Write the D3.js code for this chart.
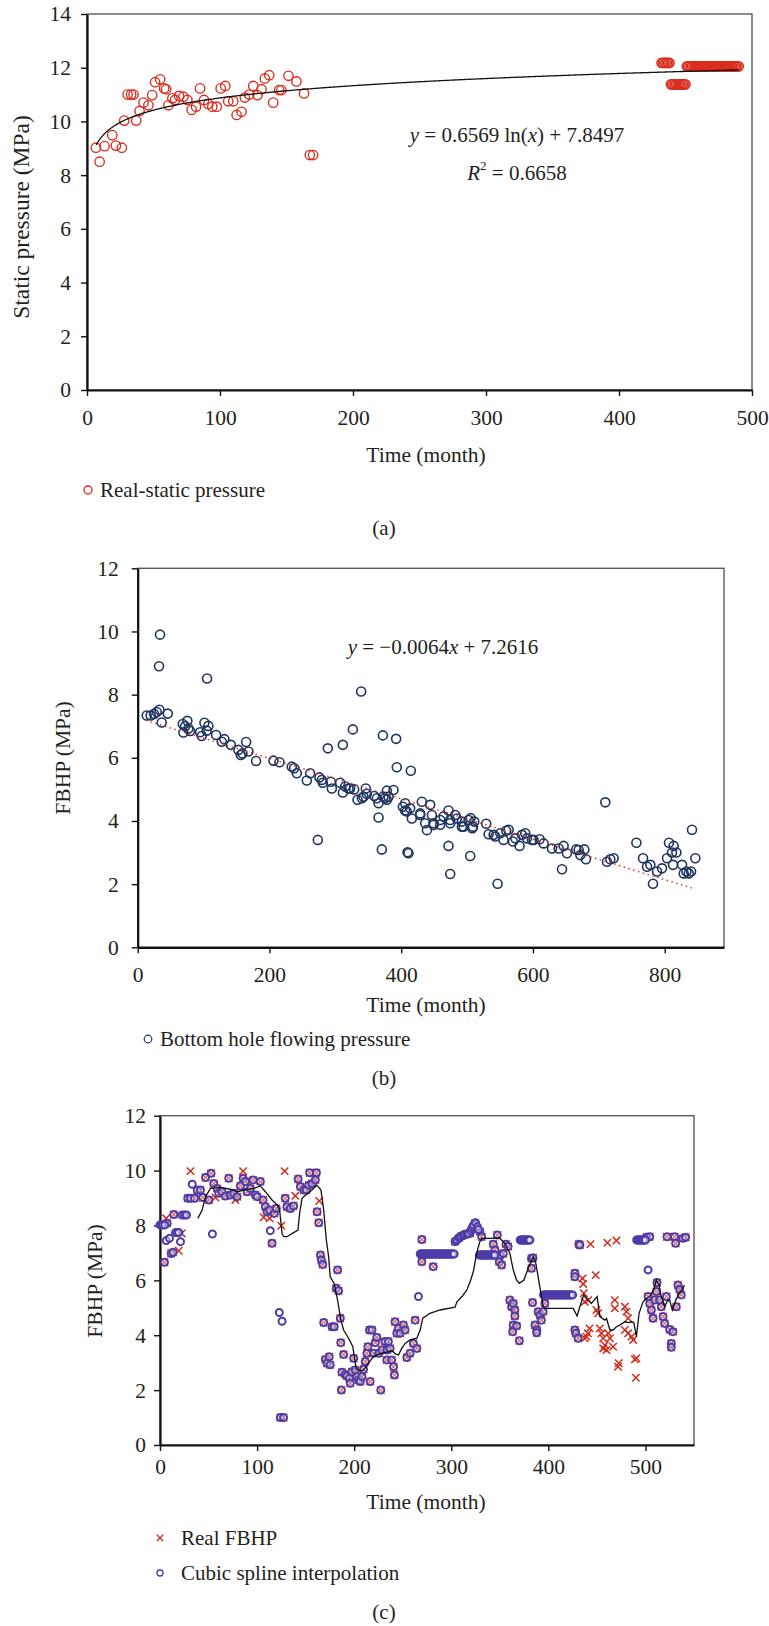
<!DOCTYPE html>
<html>
<head>
<meta charset="utf-8">
<script src="https://cdn.jsdelivr.net/npm/d3@7"></script>
<style>
  body { margin: 0; background: #fff; }
  svg { display: block; }
</style>
</head>
<body>
<svg id="chart"></svg>
<script>
// ---- (a) static pressure ----
const staticMonths = [6.7, 9.5, 13.2, 19, 21.7, 26.2, 28, 30.5, 33.2, 35, 37, 39.5, 42.5, 46.2, 49, 51.2, 55, 58, 59.5, 61.2,
  64.2, 66.2, 69.2, 72.5, 75.5, 78.7, 82, 85, 88, 91.2, 94.2, 97.5, 100.5, 104, 106.2, 110, 112.5, 116.2, 118.7, 122,
  125, 128.2, 131.2, 133.7, 137, 140, 144.5, 146.2, 151.5, 157.5, 163.2, 167.5, 170,
  432, 433, 434, 435, 436, 437, 438,
  439, 440, 441, 442, 443, 444, 445, 446, 447, 448, 449, 450,
  451, 452, 453, 454, 455, 456, 457, 458, 459, 460, 461, 462, 463, 464, 465, 466, 467, 468, 469, 470,
  471, 472, 473, 474, 475, 476, 477, 478, 479, 480, 481, 482, 483, 484, 485, 486, 487, 488, 489, 490];
const staticPressure = [9.02, 8.5, 9.08, 9.49, 9.1, 9.02, 10.03, 11.0, 11.0, 11.0, 10.03, 10.39, 10.7, 10.6, 10.98, 11.46, 11.57, 11.23, 11.2, 10.6,
  10.86, 10.8, 10.95, 10.92, 10.8, 10.43, 10.55, 11.23, 10.8, 10.65, 10.55, 10.55, 11.23, 11.32, 10.75, 10.75, 10.24, 10.36, 10.89, 11.0,
  11.32, 10.98, 11.2, 11.6, 11.72, 10.7, 11.17, 11.17, 11.7, 11.49, 11.04, 8.75, 8.75,
  12.18, 12.18, 12.18, 12.18, 12.18, 12.18, 12.18,
  11.38, 11.38, 11.38, 11.38, 11.38, 11.38, 11.38, 11.38, 11.38, 11.38, 11.38, 11.38,
  12.05, 12.05, 12.05, 12.05, 12.05, 12.05, 12.05, 12.05, 12.05, 12.05, 12.05, 12.05, 12.05, 12.05, 12.05, 12.05, 12.05, 12.05, 12.05, 12.05,
  12.05, 12.05, 12.05, 12.05, 12.05, 12.05, 12.05, 12.05, 12.05, 12.05, 12.05, 12.05, 12.05, 12.05, 12.05, 12.05, 12.05, 12.05, 12.05, 12.05];
const logFit = [0.6569, 7.8497];      // y = a ln(x) + b
const logFitRange = [7, 490];

// ---- (b) bottom hole flowing pressure ----
const fbhpMonths = [13.7, 19.7, 24.8, 28.9, 32.9, 33.9, 32.4, 36.5, 45.6, 68.4, 69.4, 72, 75.4, 77, 79.5, 94.7, 97.2, 101.3, 104.8, 105.3,
  107.3, 119, 127.6, 131.6, 141.3, 152.9, 156.5, 159, 164.6, 168.1, 179.7, 206, 215.2, 233.9, 237.5, 241.5, 256.7, 261.8, 273.4, 275.9,
  279.5, 281, 288.6, 293.2, 294.7, 307.3, 311.4, 311.4, 315, 320, 322.5, 326.6, 328.6, 333.7, 339.2, 340.3, 342.8, 346.3, 347.8, 359,
  363, 365.6, 365.6, 370.6, 372.2, 375.7, 378.2, 380.8, 373, 392.3, 393.3, 414.6, 388.3, 378.2, 409.6, 411, 402.5, 406, 405.9, 408.5,
  413.6, 416.1, 431.3, 428.8, 428.8, 436.4, 439, 444, 446.6, 449.1, 449.1, 459.2, 459.2, 464.3, 471.8, 471.8, 474.4, 474.4,
  474.4, 482, 484.5, 492.1, 492.1, 494.7, 502.3, 505.4, 504.8, 507.9, 508.9, 510.9, 529.1, 532.7, 540.3, 542.8, 546.3, 550.4, 555.4, 559.5,
  563.1, 569.6, 573.2, 579.7, 583.3, 588.3, 590.9, 598.5, 601, 610.1, 616.2, 628.9, 639, 644.1, 646.6, 651.6, 665.8, 669.4, 671.9, 678,
  680.5, 709.8, 712.4, 717.4, 722.5, 757, 767.1, 773.2, 778.2, 782.2, 788.3, 795.9, 803.5, 806.5, 813.6, 812.6, 811.1, 817.7, 826.3, 828.9,
  832.9, 836.5, 840, 841.4, 846.5];
const fbhpValues = [7.34, 7.34, 7.39, 7.45, 7.52, 9.9, 8.9, 7.12, 7.4, 7.07, 6.8, 7.0, 7.17, 6.93, 6.85, 6.81, 6.69, 7.11, 6.86, 8.51,
  7.01, 6.72, 6.51, 6.59, 6.41, 6.25, 6.09, 6.14, 6.5, 6.2, 5.9, 5.91, 5.86, 5.72, 5.67, 5.51, 5.28, 5.51, 3.4, 5.38,
  5.3, 5.21, 6.3, 5.24, 5.03, 5.21, 6.41, 4.9, 5.09, 5.03, 5.03, 6.9, 5.0, 4.67, 8.1, 4.72, 4.77, 5.03, 4.86, 4.79,
  4.72, 4.56, 4.11, 3.1, 6.71, 4.72, 4.96, 4.77, 4.77, 6.6, 5.7, 5.59, 4.98, 4.67, 3.01, 2.98, 4.45, 4.56, 4.33, 4.3,
  4.4, 4.08, 4.61, 4.19, 4.24, 3.93, 3.71, 4.51, 4.19, 3.87, 3.93, 4.03, 3.88, 4.14, 4.33, 3.21, 2.32, 4.03,
  3.93, 4.19, 4.08, 3.98, 3.82, 3.82, 4.03, 4.09, 2.89, 3.77, 3.82, 3.98, 3.91, 3.58, 3.56, 3.51, 2.01, 3.61, 3.4, 3.69,
  3.72, 3.35, 3.45, 3.21, 3.56, 3.61, 3.45, 3.4, 3.4, 3.42, 3.29, 3.13, 3.13, 2.47, 3.21, 2.98, 3.1, 3.08, 2.92, 3.1,
  2.79, 4.59, 2.71, 2.79, 2.82, 3.31, 2.82, 2.55, 2.61, 2.01, 2.4, 2.5, 2.82, 3.31, 3.21, 2.61, 3.0, 3.0, 2.61, 2.34,
  2.4, 2.34, 2.4, 3.72, 2.82];
const linFit = [-0.0064, 7.2616];     // y = a x + b
const linFitRange = [12, 841];

// ---- (c) FBHP real vs cubic spline ----
// points where real FBHP and spline markers sit on top of each other
const sharedPoints = [[4.6, 6.66], [7.4, 8.08], [11.5, 6.98], [13.5, 7.02], [14.2, 8.4], [28.6, 8.99], [31.4, 8.99], [35.6, 8.99],
  [38.3, 9.29], [41.7, 9.29], [44.1, 9.02], [46.9, 9.75], [50.4, 8.93], [52.6, 9.9], [55.4, 9.53], [58.8, 9.35], [60.5, 9.17],
  [63.9, 9.23], [67.4, 9.07], [70.8, 9.72], [72.5, 9.11], [76, 9.17], [79.4, 9.05], [82.8, 9.44], [85.6, 9.72], [87.9, 9.6],
  [89.7, 9.23], [93.1, 9.35], [95.9, 9.66], [98.3, 9.11], [100.1, 9.05], [103.4, 9.6], [106.1, 8.93], [108.5, 8.68], [110.3, 8.5],
  [112.9, 8.56], [115.4, 7.35], [117.7, 8.44], [119.8, 8.62], [123.9, 1.0], [127.3, 1.0], [129, 8.99], [130.7, 8.68], [134.2, 8.62],
  [137.6, 8.71], [142.3, 9.69], [144.6, 9.41], [148.1, 9.29], [150.7, 9.29], [153.2, 9.47], [154.1, 9.92], [156.6, 9.53], [160, 9.66],
  [161.1, 9.92], [161.8, 8.5], [163.5, 8.1], [165.2, 6.92], [166.2, 6.74], [167.6, 6.58], [168.6, 4.46], [170.3, 3.12], [172, 2.98],
  [174.3, 3.22], [175.3, 2.92], [177.2, 4.31], [179.4, 4.31], [181.5, 5.71], [182.9, 6.38], [183.9, 5.62], [185.7, 4.62], [186.2, 3.73],
  [186.8, 2.0], [187.4, 2.65], [189.1, 3.3], [190.9, 2.57], [192.5, 2.51], [195, 2.43], [196, 2.25], [197.7, 2.67], [199.5, 3.16],
  [201.2, 2.73], [202.9, 2.49], [204.6, 2.37], [206.3, 2.31], [208, 2.49], [209.7, 2.76], [211.4, 3.04], [213.1, 3.34], [214.1, 3.58],
  [215.8, 4.19], [216.5, 2.31], [218.3, 4.19], [220, 3.34], [221.8, 3.73], [223.3, 3.92], [225.3, 3.34], [227.4, 2.0], [228.6, 3.46],
  [231.7, 3.77], [233.6, 3.1], [233.8, 3.46], [235.2, 3.77], [237, 3.52], [238.6, 3.1], [240.6, 2.85], [241.4, 2.55], [242.1, 4.49],
  [243.9, 4.07], [245.6, 4.25], [247.3, 4.07], [250.7, 4.37], [252.4, 4.19], [254.2, 3.19], [257.6, 3.34], [261, 3.7], [262.8, 4.55],
  [264.5, 3.52], [269.7, 7.49], [269.7, 6.68], [281.4, 6.5], [303.9, 7.41], [307.6, 7.53], [311, 7.62], [315.2, 7.68], [319.4, 7.71],
  [324.4, 8.08], [326.3, 7.9], [329.5, 7.78], [331.3, 7.59], [343.3, 7.32], [345, 7.11], [347.4, 7.65], [349.4, 6.68], [350.1, 6.92],
  [351.9, 6.56], [353.6, 6.98], [356.3, 7.32], [358.5, 7.23], [360.3, 5.28], [362.1, 5.04], [363.8, 5.16], [365.5, 4.92], [365.5, 4.7],
  [363.8, 4.37], [363.2, 4.13], [367.4, 4.34], [370.1, 3.8], [382.6, 6.8], [384.2, 6.82], [382.6, 6.44], [383.7, 5.19], [386.2, 4.37],
  [388.1, 4.19], [388, 4.09], [389.5, 4.86], [391.3, 4.73], [392.8, 4.55], [394.6, 4.86], [396.4, 5.16], [427.3, 6.26], [427.3, 6.13],
  [427.3, 4.19], [428.3, 4.07], [430.6, 3.89], [431.4, 7.32], [432.4, 7.29], [501, 7.57], [504.4, 7.59], [502.7, 5.41], [504.4, 5.16],
  [506.1, 4.92], [507.8, 4.62], [509.5, 5.28], [511.2, 5.59], [511.9, 5.92], [514.6, 5.28], [516.3, 5.04], [518.1, 4.68], [519.8, 4.43],
  [521.5, 5.41], [522.2, 7.59], [524.9, 4.21], [526.6, 3.7], [526.6, 3.56], [528.3, 4.13], [530, 7.59], [531.1, 7.35], [531.8, 5.04],
  [533.5, 5.83], [535.2, 5.67], [536.9, 5.47], [538.6, 7.53], [541.4, 7.57]];
const realOnlyPoints = [[6.3, 8.26], [19.3, 7.08], [22.3, 7.71], [31.4, 9.98], [57.1, 9.02], [77.6, 8.93], [85.6, 9.98], [106.8, 8.3],
  [112.9, 8.26], [124.9, 7.99], [128.4, 9.98], [139.3, 9.08], [164, 8.89], [435.2, 6.07], [435.9, 5.87], [436.5, 5.53], [437.5, 5.22],
  [437.5, 3.89], [439.2, 3.95], [440.7, 4.07], [441, 5.28], [442.4, 4.25], [443.4, 7.32], [448.8, 6.19], [449.5, 4.92], [451.3, 4.8],
  [453, 4.25], [454.7, 4.07], [456.5, 3.89], [456.5, 3.52], [458.2, 3.64], [459.9, 3.46], [460.8, 7.37], [461.6, 4.07], [463.4, 3.89],
  [466.7, 3.58], [468.4, 5.28], [468.4, 4.98], [470.1, 7.45], [471.8, 2.85], [472.5, 2.98], [478.8, 5.04], [478.8, 4.19], [480.5, 4.86],
  [482.2, 4.62], [482.2, 4.07], [485.7, 3.95], [487.4, 3.83], [489.1, 3.12], [490.7, 3.16], [490.1, 2.45]];
const splineOnlyPoints = [[0, 8.02], [1.5, 8.02], [3, 8.02], [5, 8.02], [6.4, 7.45], [9.8, 7.53], [16, 7.74], [17.7, 7.74], [19.3, 7.74],
  [21.1, 7.41], [22.8, 8.38], [25.2, 8.38], [27.3, 8.38], [33.2, 9.5], [54, 7.69], [113.6, 7.81], [122.9, 4.83], [125.7, 4.51], [266.2, 5.41],
  [268, 6.96], [269, 6.96], [270, 6.96], [271, 6.96], [272, 6.96], [273, 6.96], [274, 6.96], [275, 6.96], [276, 6.96], [277, 6.96],
  [278, 6.96], [279, 6.96], [280, 6.96], [281, 6.96], [282, 6.96], [283, 6.96], [284, 6.96], [285, 6.96], [286, 6.96], [287, 6.96],
  [288, 6.96], [289, 6.96], [290, 6.96], [291, 6.96], [292, 6.96], [293, 6.96], [294, 6.96], [295, 6.96], [296, 6.96], [297, 6.96],
  [298, 6.96], [299, 6.96], [300, 6.96], [301, 6.96], [302, 6.96], [303, 6.96],
  [305, 7.45], [306, 7.48], [308, 7.55], [309, 7.58], [310, 7.6], [312, 7.64], [313, 7.66], [314, 7.67], [316, 7.69], [317, 7.7],
  [318, 7.72], [320, 7.8], [321, 7.88], [322, 7.95], [323, 8.02], [325, 8.1], [327, 7.95], [328, 7.85],
  [329, 6.92], [330, 6.92], [331, 6.92], [332, 6.92], [333, 6.92], [334, 6.92], [335, 6.92], [336, 6.92], [337, 6.92], [338, 6.92],
  [339, 6.92], [340, 6.92], [341, 6.92], [342, 6.92], [343, 6.92], [344, 6.92], [345, 6.92],
  [371, 7.47], [372, 7.47], [373, 7.47], [374, 7.47], [375, 7.47], [376, 7.47], [377, 7.47], [378, 7.47], [379, 7.47], [380, 7.47], [381, 7.47],
  [395, 5.47], [396, 5.47], [397, 5.47], [398, 5.47], [399, 5.47], [400, 5.47], [401, 5.47], [402, 5.47], [403, 5.47], [404, 5.47],
  [405, 5.47], [406, 5.47], [407, 5.47], [408, 5.47], [409, 5.47], [410, 5.47], [411, 5.47], [412, 5.47], [413, 5.47], [414, 5.47],
  [415, 5.47], [416, 5.47], [417, 5.47], [418, 5.47], [419, 5.47], [420, 5.47], [421, 5.47], [422, 5.47], [423, 5.47], [424, 5.47], [425, 5.47],
  [491, 7.47], [492, 7.47], [493, 7.47], [494, 7.47], [495, 7.47], [496, 7.47], [497, 7.47], [498, 7.47], [499, 7.47], [500, 7.47],
  [502.7, 6.38]];
// black smoothing line drawn over the markers
const maMonths = [39, 43.4, 46.9, 52, 62.3, 72.5, 79.4, 86.3, 96.6, 103.4, 108.5, 115.4, 120.6, 123.2, 125.7, 127.3, 130.7, 137.6, 142.1, 143.8,
  146.3, 151.3, 156.5, 161.6, 165.8, 168.6, 171.3, 173.7, 175.3, 179.4, 182.9, 186.3, 189.1, 194.2, 198.6, 202, 204.4, 209.7, 214.8, 220,
  226.9, 235.4, 238.8, 242.3, 245.6, 249, 252.5, 257.6, 264.5, 268, 270.6, 278.1, 288.4, 303.9, 305.8, 311, 316.1, 319.4, 322.8, 326.1,
  329.4, 331.3, 339.9, 349.4, 355.3, 360.4, 363.8, 367.3, 370.1, 374.8, 379.2, 384.4, 387.1, 390.6, 394.7, 396.4, 425.6, 429.6, 432.4, 436.5,
  441, 444.4, 450.2, 453, 458.2, 459.9, 463.4, 466.7, 470.1, 473.6, 478.8, 483.2, 485.6, 488, 490.7, 493.4, 497.5, 501, 504.4, 508.5,
  511.2, 514, 516.3, 519.8, 522.2, 524.9, 527.7, 531.8, 535.2, 540.3];
const maFbhp = [8.26, 8.56, 9.05, 9.35, 9.39, 9.32, 9.23, 9.29, 9.35, 9.44, 9.23, 8.93, 8.75, 8.56, 7.71, 7.59, 7.59, 7.74, 7.83, 8.44,
  8.99, 9.15, 9.29, 9.47, 9.29, 8.56, 7.47, 6.86, 6.13, 5.89, 5.28, 4.55, 4.19, 3.89, 3.58, 2.79, 2.71, 2.73, 2.98, 3.24,
  3.32, 3.4, 3.44, 3.32, 3.28, 3.52, 3.7, 3.83, 3.89, 4.19, 4.62, 4.8, 4.92, 5.02, 5.22, 5.41, 5.65, 5.95, 6.32, 6.98,
  7.41, 7.53, 7.53, 7.55, 7.35, 6.98, 6.38, 6.01, 5.89, 6.01, 6.44, 6.86, 6.62, 5.89, 5.04, 4.98, 4.98, 4.7, 5.04, 5.47,
  5.28, 5.16, 5.41, 4.68, 4.55, 4.61, 4.19, 4.19, 4.31, 4.37, 4.49, 4.46, 4.49, 4.46, 3.95, 4.8, 5.22, 5.34, 5.41, 5.65,
  6.01, 5.83, 5.41, 5.04, 5.22, 5.28, 4.92, 5.34, 5.53, 5.83];

const FONT = "'Liberation Serif', 'Times New Roman', serif";
const INK = "#231f20";
const TICK_SIZE = 21.5, TITLE_SIZE = 21.5, LEGEND_SIZE = 21;

const svg = d3.select("#chart").attr("width", 769).attr("height", 1626);

function panel(o) {
  const x = d3.scaleLinear().domain(o.xDomain).range([o.left, o.right]);
  const y = d3.scaleLinear().domain(o.yDomain).range([o.bottom, o.top]);
  const g = svg.append("g");

  // light frame for top/right, heavier axes on left/bottom
  g.append("rect")
    .attr("x", o.left).attr("y", o.top)
    .attr("width", o.right - o.left).attr("height", o.bottom - o.top)
    .attr("fill", "none").attr("stroke", "#5b5b5b").attr("stroke-width", 1.4);

  const ya = g.append("g").attr("transform", `translate(${o.left},0)`)
    .call(d3.axisLeft(y).tickValues(o.yTicks).tickSize(6).tickSizeOuter(0).tickPadding(o.yPad));
  const xa = g.append("g").attr("transform", `translate(0,${o.bottom})`)
    .call(d3.axisBottom(x).tickValues(o.xTicks).tickSize(6).tickSizeOuter(0).tickPadding(o.xPad));
  [ya, xa].forEach(a => {
    a.select(".domain").attr("stroke", "#111").attr("stroke-width", 2.2);
    a.selectAll(".tick line").attr("stroke", "#111").attr("stroke-width", 1.4);
    a.selectAll("text").attr("font-family", FONT).attr("font-size", TICK_SIZE).attr("fill", INK);
  });

  g.append("text")
    .attr("transform", `translate(${o.yTitle[0]},${o.yTitle[1]}) rotate(-90)`)
    .attr("text-anchor", "middle").attr("dominant-baseline", "central")
    .attr("font-family", FONT).attr("font-size", o.yTitleSize || TITLE_SIZE).attr("fill", INK)
    .text(o.yLabel);
  g.append("text")
    .attr("x", o.xTitle[0]).attr("y", o.xTitle[1])
    .attr("text-anchor", "middle").attr("dominant-baseline", "central")
    .attr("font-family", FONT).attr("font-size", TITLE_SIZE).attr("fill", INK)
    .text("Time (month)");
  g.append("text")
    .attr("x", o.caption[0]).attr("y", o.caption[1])
    .attr("text-anchor", "middle").attr("dominant-baseline", "central")
    .attr("font-family", FONT).attr("font-size", 21).attr("fill", INK)
    .text(o.captionText);
  return { x, y, g };
}

function legendText(g, x, y, txt) {
  g.append("text").attr("x", x).attr("y", y)
    .attr("dominant-baseline", "central")
    .attr("font-family", FONT).attr("font-size", LEGEND_SIZE).attr("fill", INK)
    .text(txt);
}

// ================= (a) =================
const RED = "#d92b1c";
const A = panel({
  left: 87, right: 752, top: 14, bottom: 390,
  xDomain: [0, 500], yDomain: [0, 14],
  xTicks: d3.range(0, 501, 100), yTicks: d3.range(0, 15, 2),
  yPad: 10, xPad: 14,
  yLabel: "Static pressure (MPa)", yTitle: [21, 217], yTitleSize: 23.5,
  xTitle: [426, 455], caption: [384, 528], captionText: "(a)"
});
const staticPts = staticMonths.map((m, i) => [m, staticPressure[i]]);
A.g.append("g").selectAll("circle").data(staticPts).join("circle")
  .attr("cx", d => A.x(d[0])).attr("cy", d => A.y(d[1])).attr("r", 4.7)
  .attr("fill", "none").attr("stroke", RED).attr("stroke-width", 1.35);

const logSamples = d3.range(logFitRange[0], logFitRange[1] + 0.5, 1);
A.g.append("path")
  .datum(logSamples)
  .attr("fill", "none").attr("stroke", "#111").attr("stroke-width", 1.3)
  .attr("d", d3.line().x(m => A.x(m)).y(m => A.y(logFit[0] * Math.log(m) + logFit[1])));

const eqA = A.g.append("text").attr("x", 517).attr("y", 135)
  .attr("text-anchor", "middle").attr("dominant-baseline", "central")
  .attr("font-family", FONT).attr("font-size", 21).attr("fill", INK);
eqA.append("tspan").attr("font-style", "italic").text("y");
eqA.append("tspan").text(" = 0.6569 ln(");
eqA.append("tspan").attr("font-style", "italic").text("x");
eqA.append("tspan").text(") + 7.8497");
const r2 = A.g.append("text").attr("x", 517).attr("y", 173)
  .attr("text-anchor", "middle").attr("dominant-baseline", "central")
  .attr("font-family", FONT).attr("font-size", 21).attr("fill", INK);
r2.append("tspan").attr("font-style", "italic").text("R");
r2.append("tspan").attr("font-size", 13).attr("dy", -8).text("2");
r2.append("tspan").attr("dy", 8).text(" = 0.6658");

A.g.append("circle").attr("cx", 88).attr("cy", 490).attr("r", 4)
  .attr("fill", "none").attr("stroke", RED).attr("stroke-width", 1.3);
legendText(A.g, 100, 490, "Real-static pressure");

// ================= (b) =================
const NAVY = "#1f3461";
const B = panel({
  left: 137.7, right: 724, top: 568.3, bottom: 947.3,
  xDomain: [0, 890], yDomain: [0, 12],
  xTicks: d3.range(0, 801, 200), yTicks: d3.range(0, 13, 2),
  yPad: 13, xPad: 13,
  yLabel: "FBHP (MPa)", yTitle: [63, 758],
  xTitle: [426, 1005], caption: [384, 1078], captionText: "(b)"
});
const fbhpPts = fbhpMonths.map((m, i) => [m, fbhpValues[i]]);
B.g.append("g").selectAll("circle").data(fbhpPts).join("circle")
  .attr("cx", d => B.x(d[0])).attr("cy", d => B.y(d[1])).attr("r", 4.5)
  .attr("fill", "none").attr("stroke", NAVY).attr("stroke-width", 1.6);
B.g.append("line")
  .attr("x1", B.x(linFitRange[0])).attr("y1", B.y(linFit[0] * linFitRange[0] + linFit[1]))
  .attr("x2", B.x(linFitRange[1])).attr("y2", B.y(linFit[0] * linFitRange[1] + linFit[1]))
  .attr("stroke", "#e8331f").attr("stroke-width", 1.5).attr("stroke-dasharray", "1.5,3.5");

const eqB = B.g.append("text").attr("x", 443).attr("y", 647)
  .attr("text-anchor", "middle").attr("dominant-baseline", "central")
  .attr("font-family", FONT).attr("font-size", 21).attr("fill", INK);
eqB.append("tspan").attr("font-style", "italic").text("y");
eqB.append("tspan").text(" = \u22120.0064");
eqB.append("tspan").attr("font-style", "italic").text("x");
eqB.append("tspan").text(" + 7.2616");

B.g.append("circle").attr("cx", 148).attr("cy", 1039).attr("r", 3.8)
  .attr("fill", "none").attr("stroke", NAVY).attr("stroke-width", 1.2);
legendText(B.g, 160, 1039, "Bottom hole flowing pressure");

// ================= (c) =================
const PURPLE = "#4d3ca8";
const XRED = "#d22b1d";
const C = panel({
  left: 160, right: 694, top: 1115.7, bottom: 1445,
  xDomain: [0, 550], yDomain: [0, 12],
  xTicks: d3.range(0, 501, 100), yTicks: d3.range(0, 13, 2),
  yPad: 8, xPad: 8,
  yLabel: "FBHP (MPa)", yTitle: [95, 1281],
  xTitle: [426, 1502], caption: [384, 1612], captionText: "(c)"
});
const realPts = sharedPoints.concat(realOnlyPoints);
const splinePts = sharedPoints.concat(splineOnlyPoints);
const cross = s => `M${-s},${-s}L${s},${s}M${-s},${s}L${s},${-s}`;

C.g.append("g").selectAll("path").data(realPts).join("path")
  .attr("transform", d => `translate(${C.x(d[0])},${C.y(d[1])})`)
  .attr("d", cross(3.7))
  .attr("fill", "none").attr("stroke", XRED).attr("stroke-width", 1.5);
C.g.append("g").selectAll("circle").data(splinePts).join("circle")
  .attr("cx", d => C.x(d[0])).attr("cy", d => C.y(d[1])).attr("r", 3.5)
  .attr("fill", "#fff").attr("fill-opacity", 0.4)
  .attr("stroke", PURPLE).attr("stroke-width", 2);
C.g.append("path")
  .datum(maMonths.map((m, i) => [m, maFbhp[i]]))
  .attr("fill", "none").attr("stroke", "#111").attr("stroke-width", 1.3)
  .attr("d", d3.line().x(d => C.x(d[0])).y(d => C.y(d[1])));

C.g.append("path").attr("transform", "translate(160,1538)").attr("d", cross(3.2))
  .attr("fill", "none").attr("stroke", XRED).attr("stroke-width", 1.3);
legendText(C.g, 181, 1538, "Real FBHP");
C.g.append("circle").attr("cx", 160).attr("cy", 1573).attr("r", 3)
  .attr("fill", "none").attr("stroke", PURPLE).attr("stroke-width", 1.3);
legendText(C.g, 181, 1573, "Cubic spline interpolation");
</script>
</body>
</html>
